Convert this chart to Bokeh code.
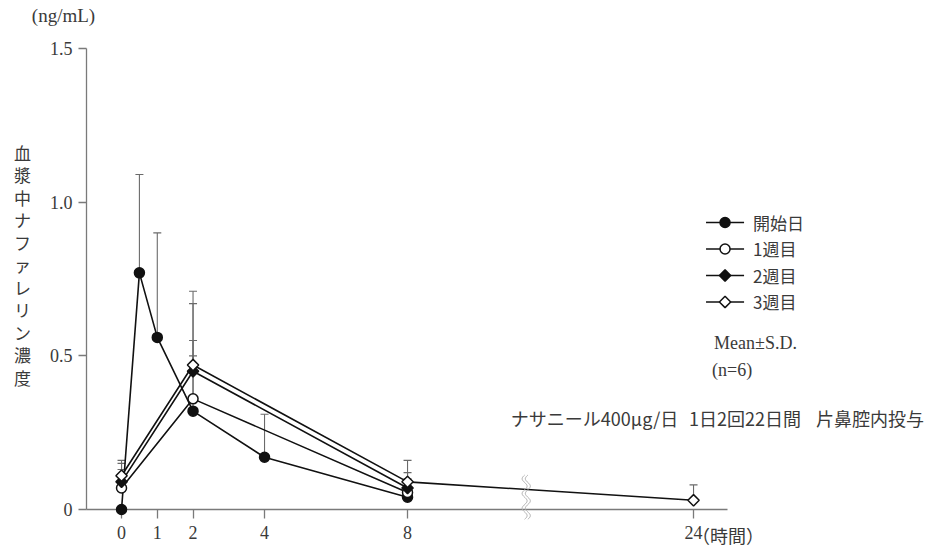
import numpy as np
from bokeh.plotting import figure
from bokeh.models import Range1d, FixedTicker, PrintfTickFormatter, ColumnDataSource
from bokeh.core.properties import value
from bokeh.embed import file_html
from bokeh.resources import INLINE

# ---------------- data (hours, ng/mL) ----------------
t_day0 = [0, 0.5, 1, 2, 4, 8]
m_day0 = [0.0, 0.77, 0.56, 0.32, 0.17, 0.04]
u_day0 = [0.0, 1.09, 0.90, 0.50, 0.31, 0.04]

t_wk1 = [0, 2, 8]
m_wk1 = [0.07, 0.36, 0.055]
u_wk1 = [0.15, 0.55, 0.12]

t_wk2 = [0, 2, 8]
m_wk2 = [0.09, 0.45, 0.07]
u_wk2 = [0.13, 0.67, 0.10]

t_wk3 = [0, 2, 8, 24]
m_wk3 = [0.11, 0.47, 0.09, 0.03]
u_wk3 = [0.16, 0.71, 0.16, 0.08]

series_labels = ["開始日", "1週目", "2週目", "3週目"]
x_ticks_hours = [0, 1, 2, 4, 8, 24]
y_ticks = [0, 0.5, 1.0, 1.5]
note_parts = ["ナサニール400μg/日", "1日2回22日間", "片鼻腔内投与"]

BREAK_AT = 8        # hours: axis is compressed beyond this point
BREAK_SCALE = 0.5   # display units per hour after the break


def xd(t):
    """hours -> display coordinate on the broken axis"""
    t = np.asarray(t, dtype=float)
    return np.where(t <= BREAK_AT, t, BREAK_AT + (t - BREAK_AT) * BREAK_SCALE)


JP = "Noto Sans CJK JP"
SERIF = "Liberation Serif"
TXT = "#3a3a3a"
AX = "#7a7a7a"

p = figure(width=930, height=547, output_backend="svg", toolbar_location=None,
           x_range=Range1d(-0.98, 16.95), y_range=Range1d(0, 1.5),
           min_border_left=86, min_border_right=203, min_border_top=48, min_border_bottom=38)
p.outline_line_color = None
p.grid.visible = False
p.background_fill_color = "white"

# axes
p.xaxis.ticker = FixedTicker(ticks=list(xd(x_ticks_hours)))
p.xaxis.major_label_overrides = {float(v): str(h) for v, h in zip(xd(x_ticks_hours), x_ticks_hours)}
p.yaxis.ticker = FixedTicker(ticks=y_ticks)
p.yaxis.formatter = PrintfTickFormatter(format="%.1f")
p.yaxis.major_label_overrides = {0: "0"}
for ax in (p.xaxis, p.yaxis):
    ax.axis_line_color = AX
    ax.axis_line_width = 1.3
    ax.major_tick_line_color = AX
    ax.major_tick_line_width = 1.3
    ax.major_tick_in = 0
    ax.minor_tick_line_color = None
    ax.major_label_text_font = SERIF
    ax.major_label_text_font_size = "18px"
    ax.major_label_text_color = TXT
p.xaxis.major_tick_out = 9
p.xaxis.major_label_standoff = 7
p.yaxis.major_tick_out = 8
p.yaxis.major_label_standoff = 6


def px2x(px):
    return (px - 121) / 35.72


def py2y(py):
    return (509 - py) / 307.3


# error bars (upper only) with caps
ERR = "#6a6a6a"
for t, m, u in [(t_day0, m_day0, u_day0), (t_wk1, m_wk1, u_wk1),
                (t_wk2, m_wk2, u_wk2), (t_wk3, m_wk3, u_wk3)]:
    x = xd(t)
    keep = [i for i in range(len(t)) if u[i] - m[i] > 0.015]
    src = ColumnDataSource(dict(x=[x[i] for i in keep], y0=[m[i] for i in keep], y1=[u[i] for i in keep]))
    p.segment("x", "y0", "x", "y1", source=src, line_color=ERR, line_width=1.1)
    p.scatter("x", "y1", source=src, marker="dash", size=8, line_color=ERR, line_width=1.1)

# axis break mark (decoration)
yy = np.linspace(-0.032, 0.112, 60)
wig = 0.07 * np.sin((yy - yy[0]) / 0.048 * 2 * np.pi)
brk_pos = BREAK_AT + (float(xd(24)) - BREAK_AT) * 0.415
for off in (-0.045, 0.045):
    r = p.line(brk_pos + off + wig, yy, line_color="#b0b0b0", line_width=1)
    r.level = "annotation"

# series + hand-built legend (drawn unclipped, past the frame's right edge)
LINE = "#111111"
styles = [
    dict(marker="circle", size=10, fill_color="#111111", angle=0),
    dict(marker="circle", size=10, fill_color="white", angle=0),
    dict(marker="square", size=8, fill_color="#111111", angle=np.pi / 4),
    dict(marker="square", size=8, fill_color="white", angle=np.pi / 4),
]
LEG_X0, LEG_X1, LEG_TXT = 705, 743, 752
LEG_ROWS = [222, 248.5, 275, 301.5]
for (t, m), st, lab, ly in zip([(t_day0, m_day0), (t_wk1, m_wk1), (t_wk2, m_wk2), (t_wk3, m_wk3)],
                               styles, series_labels, LEG_ROWS):
    x = xd(t)
    p.line(x, m, line_color=LINE, line_width=1.6)
    sr = p.scatter(x, m, marker=st["marker"], size=st["size"], angle=st["angle"],
                   fill_color=st["fill_color"], line_color=LINE, line_width=1.5)
    sr.level = "annotation"
    lr = p.line([px2x(LEG_X0), px2x(LEG_X1)], [py2y(ly)] * 2, line_color=LINE, line_width=1.6)
    lr.level = "annotation"
    lm = p.scatter([px2x((LEG_X0 + LEG_X1) / 2)], [py2y(ly)], marker=st["marker"], size=st["size"],
                   angle=st["angle"], fill_color=st["fill_color"], line_color=LINE, line_width=1.5)
    lm.level = "annotation"
    lt = p.text(x=[px2x(LEG_TXT)], y=[py2y(ly)], text=[lab], text_font=value(JP), text_font_size="17px",
                text_color=TXT, text_align="left", text_baseline="middle")
    lt.level = "annotation"


def txt(texts, pxs, pys, size="15px", align="left", font=JP):
    r = p.text(x=[px2x(v) for v in pxs], y=[py2y(v) for v in pys], text=texts,
               text_font=value(font), text_font_size=size, text_color=TXT,
               text_align=align, text_baseline="middle")
    r.level = "annotation"


txt(["(ng/mL)"], [63], [15], size="19px", align="center", font=SERIF)
ylab = list("血漿中ナファレリン濃度")
txt(ylab, [22] * len(ylab), [152 + i * 22.5 for i in range(len(ylab))], size="17px", align="center")
txt(["Mean±S.D.", "(n=6)"], [713, 711], [343, 370], size="18px", font=SERIF)
txt(note_parts, [510, 688, 815], [418, 418, 418], size="18px")
txt(["（時間）"], [691], [534], size="18px")

open("out.html", "w").write(file_html(p, INLINE))
